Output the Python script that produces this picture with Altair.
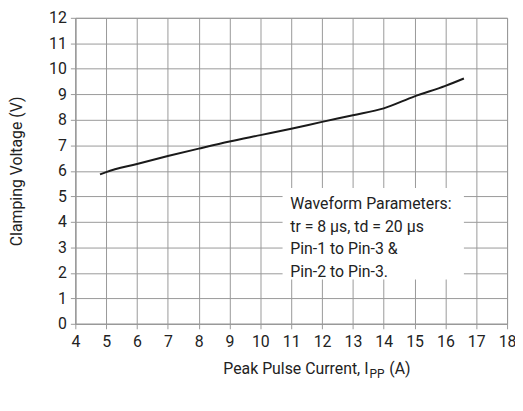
import altair as alt
import pandas as pd

# Curve
current = [4.8, 5.0, 6.0, 7.0, 8.0, 9.0, 10.0, 11.0, 12.0, 13.0, 14.0, 15.0, 16.0, 16.6]
voltage = [5.86, 5.95, 6.27, 6.58, 6.87, 7.15, 7.40, 7.65, 7.92, 8.18, 8.45, 8.92, 9.33, 9.62]

x_ticks = list(range(4, 19))
y_ticks = list(range(0, 13))

box_x = [10.72, 16.6]
box_y = [1.74, 5.33]
box_lines = ["Waveform Parameters:", "tr = 8 μs, td = 20 μs", "Pin-1 to Pin-3 &", "Pin-2 to Pin-3."]

FONT = "Roboto, Liberation Sans, sans-serif"
GRID = "#999999"
TXT = "#222222"
FS = 16

W, H = 436, 309
TOP = 8

df = pd.DataFrame({"x": current, "y": voltage})

xs = alt.Scale(domain=[4, 18], nice=False)
ys = alt.Scale(domain=[0, 12], nice=False)

x_axis = alt.Axis(values=x_ticks, title=None, grid=True, gridColor=GRID, gridWidth=1,
                  domainColor=GRID, tickColor=GRID, tickSize=5, labelFont=FONT,
                  labelFontSize=FS, labelColor=TXT, labelPadding=5, labelOverlap=False,
                  labelFlush=False, labelBound=False)
y_axis = alt.Axis(values=y_ticks, title="Clamping Voltage (V)", grid=True, gridColor=GRID,
                  gridWidth=1, domainColor=GRID, tickColor=GRID, tickSize=5,
                  labelFont=FONT, labelFontSize=FS, labelColor=TXT, labelPadding=4,
                  labelOverlap=False, labelFlush=False, labelBound=False,
                  titleFont=FONT, titleFontSize=FS, titleFontWeight="normal",
                  titleColor=TXT, titlePadding=24)

line = alt.Chart(df).mark_line(color="#1a1a1a", strokeWidth=2, interpolate="monotone").encode(
    x=alt.X("x:Q", scale=xs, axis=x_axis),
    y=alt.Y("y:Q", scale=ys, axis=y_axis),
)

box_df = pd.DataFrame({"x": [box_x[0]], "x2": [box_x[1]], "y": [box_y[0]], "y2": [box_y[1]]})
box = alt.Chart(box_df).mark_rect(color="white").encode(
    x=alt.X("x:Q", scale=xs, axis=x_axis), x2="x2:Q",
    y=alt.Y("y:Q", scale=ys, axis=y_axis), y2="y2:Q"
)

txt_df = pd.DataFrame({"t": [box_lines]})
box_text = alt.Chart(txt_df).mark_text(
    align="left", baseline="alphabetic", font=FONT, fontSize=FS, lineHeight=23, color=TXT
).encode(text="t", x=alt.value(217), y=alt.value(193))

t1 = alt.Chart(pd.DataFrame({"t": ["Peak Pulse Current, I"]})).mark_text(
    align="right", baseline="alphabetic", font=FONT, fontSize=FS, color=TXT).encode(
    text="t", x=alt.value(296), y=alt.value(360))
t2 = alt.Chart(pd.DataFrame({"t": ["PP"]})).mark_text(
    align="left", baseline="alphabetic", font=FONT, fontSize=12, color=TXT).encode(
    text="t", x=alt.value(297), y=alt.value(364))
t3 = alt.Chart(pd.DataFrame({"t": ["(A)"]})).mark_text(
    align="left", baseline="alphabetic", font=FONT, fontSize=FS, color=TXT).encode(
    text="t", x=alt.value(317), y=alt.value(360))

chart = alt.layer(line, box, box_text, t1, t2, t3).properties(
    width=W, height=H,
    autosize=alt.AutoSizeParams(type="none"),
    padding={"left": 68, "top": TOP, "right": 8, "bottom": 74},
).configure_view(stroke=GRID)

chart.save("out.html", embed_options={"renderer": "svg", "actions": False})
